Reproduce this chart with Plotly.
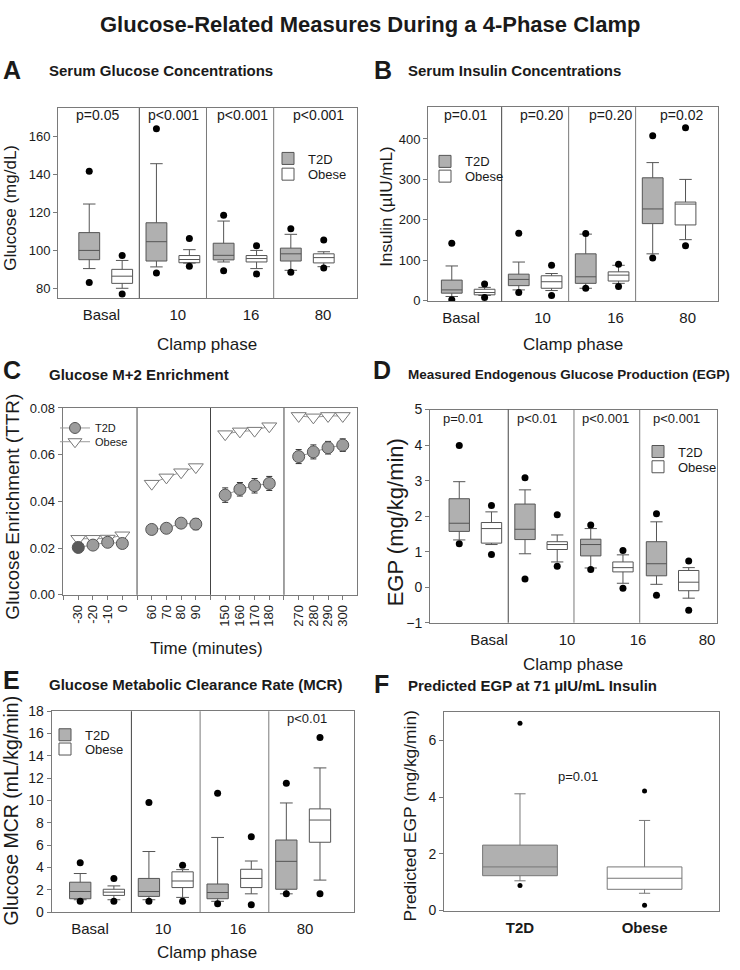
import numpy as np
import plotly.graph_objects as go

W, H = 740, 970
FONT = "Liberation Sans, Arial, sans-serif"
TXT = "#1a1a1a"
FRAME = "#7a7a7a"
T2D_FILL = "#b0b0b0"
OB_FILL = "#ffffff"
BOX_LINE = "#555555"

PHASES = ["Basal", "10", "16", "80"]
GROUPS = ["T2D", "Obese"]

# Box statistics per clamp phase:
# [lower whisker, Q1, median, Q3, upper whisker, low outlier, high outlier]
GLU_T2D = [[90.4, 95.1, 100.0, 109.4, 124.5, 83.1, 141.8],
           [91.3, 94.4, 104.6, 114.6, 145.8, 88.1, 164.3],
           [93.9, 95.0, 97.4, 103.8, 115.5, 89.3, 118.6],
           [89.5, 94.4, 98.2, 101.2, 108.5, 88.5, 111.5]]
GLU_OBESE = [[80.0, 82.6, 86.4, 90.0, 94.7, 77.0, 97.3],
             [93.3, 93.5, 95.2, 97.3, 100.4, 91.6, 106.3],
             [90.4, 93.9, 95.7, 97.3, 100.0, 87.6, 102.5],
             [91.4, 93.4, 96.2, 98.2, 99.3, 90.7, 105.5]]

INS_T2D = [[10.5, 18.7, 26.8, 51.0, 86.0, 2.4, 142.0],
           [26.8, 37.3, 52.7, 65.7, 95.7, 20.3, 167.0],
           [30.8, 43.0, 59.2, 116.0, 164.7, 30.8, 166.0],
           [116.0, 190.7, 227.0, 304.0, 341.6, 105.5, 408.0]]
INS_OBESE = [[13.0, 14.6, 20.3, 28.4, 33.0, 8.1, 41.4],
             [25.2, 30.8, 47.0, 61.7, 67.3, 13.0, 87.6],
             [43.0, 48.7, 63.3, 71.4, 87.6, 35.0, 90.0],
             [151.0, 187.4, 239.0, 244.0, 300.0, 136.0, 428.0]]

EGP_T2D = [[1.33, 1.57, 1.80, 2.49, 2.97, 1.22, 3.99],
           [0.94, 1.34, 1.63, 2.34, 2.74, 0.23, 3.08],
           [0.54, 0.88, 1.20, 1.35, 1.65, 0.50, 1.75],
           [0.08, 0.32, 0.66, 1.28, 1.84, -0.23, 2.07]]
EGP_OBESE = [[1.20, 1.24, 1.65, 1.82, 2.12, 0.92, 2.30],
             [0.71, 1.06, 1.20, 1.28, 1.47, 0.59, 2.04],
             [0.11, 0.43, 0.55, 0.71, 0.91, -0.03, 1.03],
             [-0.31, -0.10, 0.14, 0.47, 0.55, -0.65, 0.74]]

MCR_T2D = [[1.11, 1.20, 1.85, 2.68, 3.46, 0.97, 4.43],
           [1.11, 1.41, 1.85, 3.02, 5.43, 0.97, 9.83],
           [0.97, 1.20, 1.76, 2.52, 6.69, 0.76, 10.66],
           [1.64, 2.05, 4.55, 6.46, 9.78, 1.64, 11.54]]
MCR_OBESE = [[1.11, 1.50, 1.79, 2.05, 2.35, 0.97, 3.02],
             [1.32, 2.20, 2.79, 3.61, 3.81, 0.97, 4.20],
             [1.64, 2.20, 3.02, 3.84, 4.58, 0.67, 6.75],
             [2.87, 6.26, 8.25, 9.25, 12.92, 1.64, 15.65]]

PRED_EGP_T2D = [[1.05, 1.23, 1.54, 2.31, 4.12, 0.88, 6.61]]
PRED_EGP_OBESE = [[0.61, 0.75, 1.14, 1.54, 3.18, 0.19, 4.22]]

# Panel C: glucose M+2 enrichment (mean, error)
TIME_MIN = [-30, -20, -10, 0, 60, 70, 80, 90, 150, 160, 170, 180, 270, 280, 290, 300]
ENR_T2D = [0.0203, 0.0213, 0.0225, 0.0220, 0.0280, 0.0285, 0.0307, 0.0303,
           0.0427, 0.0452, 0.0467, 0.0477, 0.0592, 0.0612, 0.0630, 0.0641]
ENR_T2D_ERR = [0.0008, 0.0009, 0.0010, 0.0010, 0.0016, 0.0018, 0.0020, 0.0024,
               0.0031, 0.0029, 0.0031, 0.0030, 0.0030, 0.0030, 0.0027, 0.0027]
ENR_OBESE = [0.0240, 0.0240, 0.0241, 0.0255, 0.0476, 0.0503, 0.0525, 0.0547,
             0.0688, 0.0700, 0.0703, 0.0722, 0.0766, 0.0760, 0.0766, 0.0766]
ENR_OBESE_ERR = [0.0007, 0.0007, 0.0007, 0.0008, 0.0008, 0.0008, 0.0009, 0.0009,
                 0.0009, 0.0009, 0.0009, 0.0009, 0.0007, 0.0007, 0.0007, 0.0007]

P_GLU = ["p=0.05", "p<0.001", "p<0.001", "p<0.001"]
P_INS = ["p=0.01", "p=0.20", "p=0.20", "p=0.02"]
P_EGP = ["p=0.01", "p<0.01", "p<0.001", "p<0.001"]
P_MCR = ["p<0.01"]
P_PRED = ["p=0.01"]


def X(px):
    return px / W


def Y(py):
    return 1 - py / H


# panel plot areas in pixels: left, right, top, bottom
PX = {
    "A": (58, 357, 101.7, 295.0),
    "B": (428, 718, 100.7, 298.3),
    "C": (62.7, 356.7, 406.7, 596.7),
    "D": (430, 717.3, 408.3, 625.0),
    "E": (51.7, 354, 715.0, 919.3),
    "F": (444, 719.3, 716.0, 917.7),
}
XR = {"A": [-0.71, 3.74], "B": [-0.60, 3.73], "D": [-0.69, 3.68], "E": [-0.66, 3.74]}
LABEL_PX = {"A": [101.4, 177.8, 251, 323], "B": [461, 542.5, 615.6, 687.7],
            "D": [489, 567, 638, 707], "E": [90, 163, 238, 305]}
AX = {"A": ("x", "y"), "B": ("x2", "y2"), "C": ("x3", "y3"),
      "D": ("x4", "y4"), "E": ("x5", "y5"), "F": ("x6", "y6")}


def px_to_data(panel, pxs):
    l, r, _, _ = PX[panel]
    r0, r1 = XR[panel]
    return [r0 + (p - l) / (r - l) * (r1 - r0) for p in pxs]


fig = go.Figure()
OFF = 0.245


def add_boxes(panel, stats, xpos, fill, name, legend, showlegend,
              width=0.31, whisker=0.6, dot=7, lc=BOX_LINE):
    xa, ya = AX[panel]
    s = np.array(stats, dtype=float)
    fig.add_trace(go.Box(
        x=xpos, lowerfence=s[:, 0], q1=s[:, 1], median=s[:, 2], q3=s[:, 3],
        upperfence=s[:, 4], orientation="v", width=width, whiskerwidth=whisker,
        fillcolor=fill, line=dict(color=lc, width=1), boxpoints=False,
        name=name, legend=legend, showlegend=showlegend,
        xaxis=xa, yaxis=ya, hoverinfo="skip"))
    fig.add_trace(go.Scatter(
        x=np.concatenate([xpos, xpos]), y=np.concatenate([s[:, 5], s[:, 6]]),
        mode="markers", marker=dict(color="black", size=dot),
        showlegend=False, xaxis=xa, yaxis=ya, hoverinfo="skip"))


idx = np.arange(len(PHASES), dtype=float)
for panel, t2d, ob, legs in [("A", GLU_T2D, GLU_OBESE, ("legend", "legend2")),
                             ("B", INS_T2D, INS_OBESE, ("legend3", "legend4")),
                             ("D", EGP_T2D, EGP_OBESE, ("legend7", "legend8")),
                             ("E", MCR_T2D, MCR_OBESE, ("legend9", "legend10"))]:
    add_boxes(panel, t2d, idx - OFF, T2D_FILL, GROUPS[0], legs[0], True)
    add_boxes(panel, ob, idx + OFF, OB_FILL, GROUPS[1], legs[1], True)

# Panel F
add_boxes("F", PRED_EGP_T2D, np.array([0.0]), T2D_FILL, GROUPS[0], "legend", False,
          width=0.6, whisker=0.15, dot=5, lc="#777777")
add_boxes("F", PRED_EGP_OBESE, np.array([1.0]), OB_FILL, GROUPS[1], "legend", False,
          width=0.6, whisker=0.15, dot=5, lc="#777777")

# Panel C
cpos = np.array([5 * (k // 4) + (k % 4) for k in range(len(TIME_MIN))])
t2d_y = np.array(ENR_T2D)
ob_y = np.array(ENR_OBESE)
for p in range(4):
    sl = slice(4 * p, 4 * p + 4)
    mcol = ["#5a5a5a" if (p == 0 and j == 0) else "#9c9c9c" for j in range(4)]
    fig.add_trace(go.Scatter(
        x=cpos[sl], y=ob_y[sl], mode="lines+markers",
        error_y=dict(type="data", array=np.array(ENR_OBESE_ERR)[sl], color="#333", thickness=1, width=3),
        line=dict(color="#9a9a9a", width=1),
        marker=dict(symbol="triangle-down", size=13, color="white", line=dict(color="#777", width=1)),
        showlegend=False, xaxis="x3", yaxis="y3", hoverinfo="skip"))
    fig.add_trace(go.Scatter(
        x=cpos[sl], y=t2d_y[sl], mode="lines+markers",
        error_y=dict(type="data", array=np.array(ENR_T2D_ERR)[sl], color="#333", thickness=1, width=3),
        line=dict(color="#9a9a9a", width=1),
        marker=dict(symbol="circle", size=12, color=mcol, line=dict(color="#555", width=1)),
        showlegend=False, xaxis="x3", yaxis="y3", hoverinfo="skip"))
fig.add_trace(go.Scatter(x=[None], y=[None], mode="lines+markers", name=GROUPS[0],
                         line=dict(color="#9a9a9a", width=1),
                         marker=dict(symbol="circle", size=11, color="#9c9c9c", line=dict(color="#555", width=1)),
                         legend="legend5", xaxis="x3", yaxis="y3"))
fig.add_trace(go.Scatter(x=[None], y=[None], mode="lines+markers", name=GROUPS[1],
                         line=dict(color="#9a9a9a", width=1),
                         marker=dict(symbol="triangle-down", size=12, color="white", line=dict(color="#777", width=1)),
                         legend="legend6", xaxis="x3", yaxis="y3"))


def dom(panel):
    l, r, t, b = PX[panel]
    return [X(l), X(r)], [Y(b), Y(t)]


def base_axis(d):
    return dict(domain=d, showline=True, mirror=True, linecolor=FRAME, linewidth=1,
                showgrid=False, zeroline=False, tickfont=dict(family=FONT, size=13, color=TXT))


layout = dict(width=W, height=H, margin=dict(l=0, r=0, t=0, b=0),
              paper_bgcolor="white", plot_bgcolor="white",
              font=dict(family=FONT, color=TXT), showlegend=True)

yranges = {"A": ([74.8, 175.2], 20, None), "B": ([-1.6, 479], 100, None),
           "C": ([0, 0.08], 0.02, ".2f"), "D": ([-1, 5], 1, None),
           "E": ([0, 18], 2, None), "F": ([0, 7.0], 2, None)}
ytfs = {"A": 13, "B": 13, "C": 13, "D": 14, "E": 14, "F": 14}

for n, panel in enumerate(["A", "B", "C", "D", "E", "F"], start=1):
    xd, yd = dom(panel)
    xa = base_axis(xd)
    ya = base_axis(yd)
    sfx = "" if n == 1 else str(n)
    xa["anchor"] = "y" + sfx
    ya["anchor"] = "x" + sfx
    yr, dt, fmt = yranges[panel]
    ya.update(range=yr, dtick=dt, tick0=0, ticks="outside", ticklen=4, tickcolor=FRAME,
              tickfont=dict(family=FONT, size=ytfs[panel], color=TXT))
    if fmt:
        ya["tickformat"] = fmt
    if panel in XR:
        xa.update(type="linear", range=XR[panel], tickmode="array",
                  tickvals=px_to_data(panel, LABEL_PX[panel]), ticktext=PHASES,
                  ticks="", ticklabelstandoff=3, tickfont=dict(family=FONT, size=15, color=TXT))
    elif panel == "C":
        labels = {int(p): str(t) for p, t in zip(cpos, TIME_MIN)}
        tv = list(range(-1, 20))
        xa.update(type="linear", range=[-1.06, 18.95], tickmode="array", tickvals=tv,
                  ticktext=[labels.get(v, "") for v in tv], ticks="outside", ticklen=4,
                  tickcolor=FRAME, tickangle=-90, tickfont=dict(family=FONT, size=13, color=TXT))
    else:
        xa.update(type="linear", range=[-0.61, 1.6], tickmode="array", tickvals=[0, 1],
                  ticktext=["<b>%s</b>" % g for g in GROUPS], ticks="",
                  ticklabelstandoff=3, tickfont=dict(family=FONT, size=15, color=TXT))
    layout["xaxis" + sfx] = xa
    layout["yaxis" + sfx] = ya


def legend_at(x, y, size=13):
    return dict(x=X(x), y=Y(y), xanchor="left", yanchor="middle", bgcolor="rgba(0,0,0,0)",
                tracegroupgap=0, itemwidth=30, font=dict(family=FONT, size=size, color=TXT))


# one legend per entry so that each row sits where the reference has it
layout["legend"] = legend_at(268, 153)
layout["legend2"] = legend_at(268, 169)
layout["legend3"] = legend_at(425, 156)
layout["legend4"] = legend_at(425, 171)
layout["legend5"] = legend_at(55, 427, 11)
layout["legend6"] = legend_at(55, 441, 11)
layout["legend7"] = legend_at(638, 451)
layout["legend8"] = legend_at(638, 466.5)
layout["legend9"] = legend_at(45, 739)
layout["legend10"] = legend_at(45, 753.5)

fig.update_layout(**layout)

# separators between clamp phases
seps = {"A": [0.5, 1.5, 2.5], "B": [0.5, 1.5, 2.5], "D": [0.5, 1.5, 2.5],
        "E": [0.5, 1.5, 2.5], "C": [4, 9, 14]}
for panel, xs in seps.items():
    xa, ya = AX[panel]
    for i, xv in enumerate(xs):
        col = "#444444" if (panel == "C" or i == 0) else "#7a7a7a"
        fig.add_shape(type="line", xref=xa, yref=ya + " domain", x0=xv, x1=xv, y0=0, y1=1,
                      line=dict(color=col, width=1))


def ann(text, x, y, size, bold=False, angle=0, xanchor="center", yanchor="middle"):
    fig.add_annotation(text=("<b>%s</b>" % text) if bold else text, x=X(x), y=Y(y),
                       xref="paper", yref="paper", showarrow=False, textangle=angle,
                       xanchor=xanchor, yanchor=yanchor,
                       font=dict(family=FONT, size=size, color=TXT))


ann("Glucose-Related Measures During a 4-Phase Clamp", 370, 17, 22, bold=True)

for letter, lx, ly in [("A", 1, 63), ("B", 372, 63), ("C", 1, 368),
                       ("D", 371, 368), ("E", 1, 683), ("F", 372, 687)]:
    ann(letter, lx, ly, 25, bold=True, xanchor="left")

ann("Serum Glucose Concentrations", 47, 64, 15, bold=True, xanchor="left")
ann("Serum Insulin Concentrations", 405.7, 63.5, 15, bold=True, xanchor="left")
ann("Glucose M+2 Enrichment", 47, 372.5, 15, bold=True, xanchor="left")
ann("Measured Endogenous Glucose Production (EGP)", 405.5, 372.5, 13.5, bold=True, xanchor="left")
ann("Glucose Metabolic Clearance Rate (MCR)", 47, 687.5, 15, bold=True, xanchor="left")
ann("Predicted EGP at 71 µIU/mL Insulin", 405.7, 689, 15, bold=True, xanchor="left")

# axis titles
ann("Glucose (mg/dL)", 11, 203, 17, angle=-90)
ann("Insulin (µIU/mL)", 387, 202, 17, angle=-90)
ann("Glucose Enrichment (TTR)", 13, 507, 19, angle=-90)
ann("EGP (mg/kg/min)", 395, 523, 22, angle=-90)
ann("Glucose MCR (mL/kg/min)", 11, 816, 19.5, angle=-90)
ann("Predicted EGP (mg/kg/min)", 410, 822, 17.4, angle=-90)

ann("Clamp phase", 207, 342, 17)
ann("Clamp phase", 573, 342, 17)
ann("Time (minutes)", 207, 651, 17)
ann("Clamp phase", 573, 668, 17)
ann("Clamp phase", 207, 960, 17)

# p-values
for t, x in zip(P_GLU, [97, 173, 242.7, 318]):
    ann(t, x, 109, 14)
for t, x in zip(P_INS, [465, 541.7, 610, 681]):
    ann(t, x, 109, 14)
for t, x in zip(P_EGP, [463.3, 536.7, 605, 676.7]):
    ann(t, x, 417.5, 13)
ann(P_MCR[0], 306.7, 722.5, 13)
ann(P_PRED[0], 578, 781, 13)

fig.write_html("out.html", config={"displayModeBar": False},
               post_script="document.body.style.margin='0px';")
